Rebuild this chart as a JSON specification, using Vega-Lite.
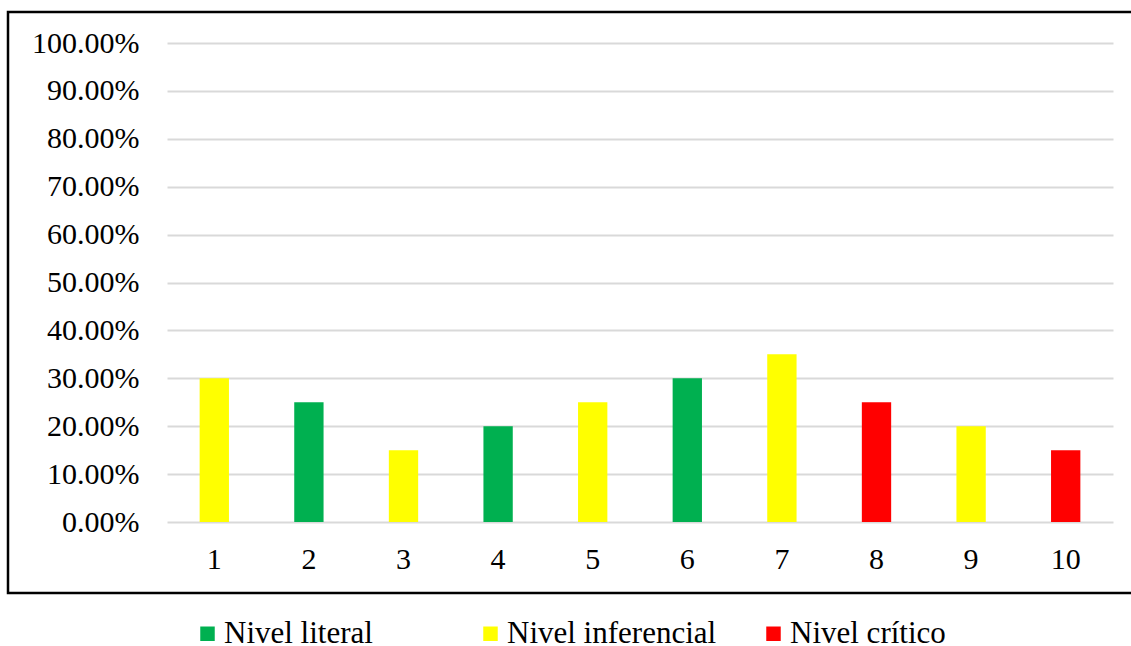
{
  "$schema": "https://vega.github.io/schema/vega-lite/v6.json",
  "autosize": {"type": "none"},
  "padding": {"left": 8, "top": 12, "right": -4, "bottom": 53},
  "width": 1127,
  "height": 581,
  "background": "white",
  "data": {
    "values": [
      {"pregunta": 1, "porcentaje": 0.30, "nivel": "Nivel inferencial"},
      {"pregunta": 2, "porcentaje": 0.25, "nivel": "Nivel literal"},
      {"pregunta": 3, "porcentaje": 0.15, "nivel": "Nivel inferencial"},
      {"pregunta": 4, "porcentaje": 0.20, "nivel": "Nivel literal"},
      {"pregunta": 5, "porcentaje": 0.25, "nivel": "Nivel inferencial"},
      {"pregunta": 6, "porcentaje": 0.30, "nivel": "Nivel literal"},
      {"pregunta": 7, "porcentaje": 0.35, "nivel": "Nivel inferencial"},
      {"pregunta": 8, "porcentaje": 0.25, "nivel": "Nivel crítico"},
      {"pregunta": 9, "porcentaje": 0.20, "nivel": "Nivel inferencial"},
      {"pregunta": 10, "porcentaje": 0.15, "nivel": "Nivel crítico"}
    ]
  },
  "mark": {"type": "bar"},
  "encoding": {
    "x": {
      "field": "pregunta",
      "type": "ordinal",
      "scale": {"range": [159, 1105], "paddingInner": 0.69, "paddingOuter": 0.345},
      "axis": {
        "title": null,
        "orient": "bottom",
        "offset": -71,
        "domain": false,
        "ticks": false,
        "tickSize": 0,
        "grid": false,
        "labelAngle": 0,
        "labelPadding": 22,
        "labelFont": "Liberation Serif",
        "labelFontSize": 30,
        "labelColor": "black"
      }
    },
    "y": {
      "field": "porcentaje",
      "type": "quantitative",
      "scale": {"domain": [0, 1], "range": [510, 31], "nice": false, "zero": true},
      "axis": {
        "title": null,
        "orient": "left",
        "offset": -159,
        "values": [0, 0.1, 0.2, 0.3, 0.4, 0.5, 0.6, 0.7, 0.8, 0.9, 1],
        "format": ".2%",
        "domain": false,
        "ticks": false,
        "tickSize": 0,
        "grid": true,
        "gridColor": "#d9d9d9",
        "gridWidth": 2,
        "labelPadding": 28,
        "labelFont": "Liberation Serif",
        "labelFontSize": 30,
        "labelColor": "black"
      }
    },
    "color": {
      "field": "nivel",
      "type": "nominal",
      "scale": {
        "domain": ["Nivel literal", "Nivel inferencial", "Nivel crítico"],
        "range": ["#00B050", "#FFFF00", "#FF0000"]
      },
      "legend": {
        "title": null,
        "orient": "none",
        "legendX": 184,
        "legendY": 606,
        "direction": "horizontal",
        "gridAlign": "all",
        "columnPadding": 41,
        "symbolType": "square",
        "symbolSize": 210,
        "symbolStrokeWidth": 0,
        "labelFont": "Liberation Serif",
        "labelFontSize": 31,
        "labelColor": "black",
        "labelOffset": 1,
        "labelLimit": 400
      }
    }
  },
  "config": {
    "view": {"stroke": "black", "strokeWidth": 2.5}
  }
}
